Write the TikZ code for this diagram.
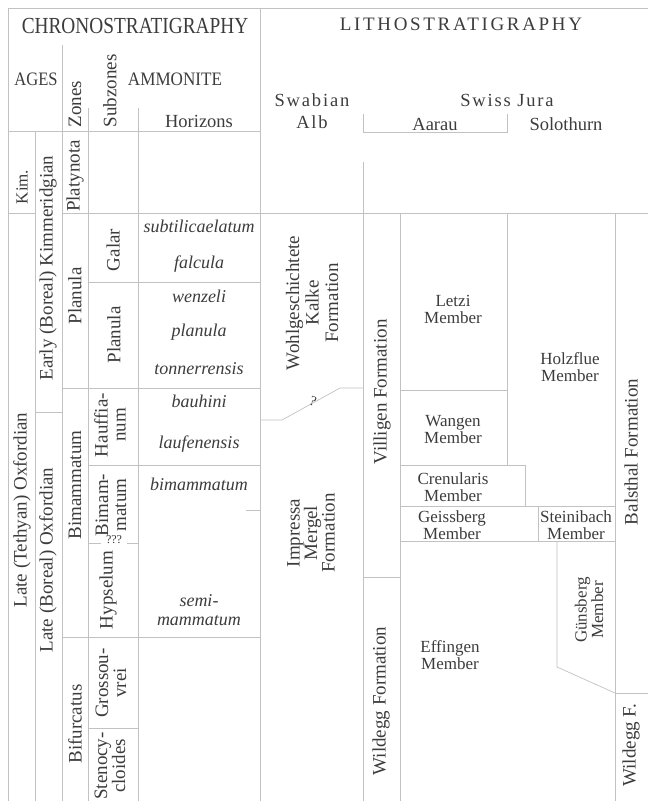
\documentclass[tikz,border=0pt]{standalone}
\usepackage{fontspec}
\usepackage{graphicx}
\setmainfont{Liberation Serif}
\newfontfamily\widefont[LetterSpace=14]{Liberation Serif}
\newfontfamily\semiwidefont[LetterSpace=10]{Liberation Serif}
\definecolor{lncol}{HTML}{C2C2C2}
\definecolor{txcol}{HTML}{3C3C3C}
\begin{document}
\begin{tikzpicture}[x=1pt,y=-1pt,
  ln/.style={draw=lncol, line width=0.7pt},
  every node/.style={text=txcol, inner sep=0pt},
  rot/.style={rotate=90, align=center, font=\fontsize{19}{18}\selectfont},
  rotm/.style={rotate=90, align=center, font=\fontsize{17}{15}\selectfont},
  mem/.style={align=center, font=\fontsize{17}{17}\selectfont},
  hor/.style={align=center, font=\fontsize{18}{18.5}\selectfont\itshape},
  hdr/.style={align=center, font=\fontsize{18.5}{22}\selectfont},
  whdr/.style={align=center, font=\semiwidefont\fontsize{18.5}{22}\selectfont},
]
\useasboundingbox (0,0) rectangle (648,801);
% frame
\draw[ln] (8,8) -- (648,8);
\draw[ln] (8,8) -- (8,801);
% chrono verticals
\draw[ln] (35,131) -- (35,801);
\draw[ln] (62,45) -- (62,801);
\draw[ln] (88,108) -- (88,801);
\draw[ln] (138,108) -- (138,801);
\draw[ln] (260,8) -- (260,801);
% chrono horizontals
\draw[ln] (8,131) -- (260,131);
\draw[ln] (8,213) -- (35,213);
\draw[ln] (62,213) -- (648,213);
\draw[ln] (88,282) -- (260,282);
\draw[ln] (62,388) -- (260,388);
\draw[ln] (35,412) -- (62,412);
\draw[ln] (88,465) -- (260,465);
\draw[ln] (246,510) -- (260,510);
\draw[ln] (88,543) -- (101,543);
\draw[ln] (127,543) -- (138,543);
\draw[ln] (62,637) -- (260,637);
\draw[ln] (88,728) -- (138,728);
% litho
\draw[ln] (363,114) -- (363,132) -- (507,132) -- (507,114);
\draw[ln] (363,162) -- (363,801);
\draw[ln] (400,213) -- (400,801);
\draw[ln] (507,213) -- (507,465);
\draw[ln] (615,213) -- (615,801);
\draw[ln] (260,420) -- (282,420) -- (340,388) -- (363,388);
\draw[ln] (400,390) -- (507,390);
\draw[ln] (400,465) -- (525,465) -- (525,506);
\draw[ln] (400,506) -- (615,506);
\draw[ln] (538,506) -- (538,541);
\draw[ln] (400,541) -- (615,541);
\draw[ln] (557,541) -- (557,667) -- (615,693);
\draw[ln] (615,693) -- (648,693);
\draw[ln] (363,577) -- (400,577);
% header texts
\node[font=\fontsize{23}{23}\selectfont] (chrono) at (135,26) {\scalebox{0.84}[1]{CHRONOSTRATIGRAPHY}};
\node[font=\widefont\fontsize{19}{19}\selectfont] (litho) at (461,24) {LITHOSTRATIGRAPHY};
\node[font=\fontsize{19}{19}\selectfont] (ages) at (36,79) {\scalebox{0.87}[1]{AGES}};
\node[font=\fontsize{19}{19}\selectfont] (ammonite) at (175,79) {\scalebox{0.9}[1]{AMMONITE}};
\node[rot] (zones) at (75,104) {Zones};
\node[rot] (subzones) at (110,91) {Subzones};
\node[hdr] (horizons) at (199,121) {Horizons};
\node[whdr] (swabian) at (312,111) {Swabian\\Alb};
\node[whdr] (swiss) at (507,100) {Swiss Jura};
\node[hdr] (aarau) at (435,124) {Aarau};
\node[hdr] (solothurn) at (566,124) {Solothurn};
% ages
\node[rotm] (kim) at (22,187) {Kim.};
\node[rot] (ekim) at (48,268) {Early (Boreal) Kimmeridgian};
\node[rot] (ltox) at (22,510) {Late (Tethyan) Oxfordian};
\node[rot] (lbox) at (48,560) {Late (Boreal) Oxfordian};
% zones
\node[rot] (zplat) at (75,176) {Platynota};
\node[rot] (zplan) at (75,296) {Planula};
\node[rot] (zbim) at (75,485) {Bimammatum};
\node[rot] (zbif) at (75,724) {Bifurcatus};
% subzones
\node[rot] (sgal) at (113,250) {Galar};
\node[rot] (splan) at (114,335) {Planula};
\node[rot] (shauf) at (110,425) {Hauffia-\\num};
\node[rot] (sbim) at (111,505) {Bimam-\\matum};
\node[font=\fontsize{12}{12}\selectfont] (qqq) at (114,540) {???};
\node[rot] (shyp) at (108,590) {Hypselum};
\node[rot] (sgros) at (111,683) {Grossou-\\vrei};
\node[rot] (sten) at (110,766) {Stenocy-\\cloides};
% horizons
\node[hor] (h1) at (199,226) {subtilicaelatum};
\node[hor] (h2) at (199,264) {falcula};
\node[hor] (h3) at (199,296) {wenzeli};
\node[hor] (h4) at (199,332) {planula};
\node[hor] (h5) at (199,369) {tonnerrensis};
\node[hor] (h6) at (199,401) {bauhini};
\node[hor] (h7) at (199,444) {laufenensis};
\node[hor] (h8) at (199,484) {bimammatum};
\node[hor] (h9) at (199,610) {semi-\\mammatum};
% swabian alb
\node[rot, font=\fontsize{19}{19.5}\selectfont] (wohl) at (312,303) {Wohlgeschichtete\\Kalke\\Formation};
\node[font=\fontsize{14}{14}\selectfont, rotate=-20] (q) at (313,401) {?};
\node[rot, font=\fontsize{19}{17.5}\selectfont] (impr) at (311,533) {Impressa\\Mergel\\Formation};
% aarau
\node[rot] (vill) at (382,392) {Villigen Formation};
\node[rot] (wild) at (381,701) {Wildegg Formation};
\node[mem] (letzi) at (453,309) {Letzi\\Member};
\node[mem] (wangen) at (453,430) {Wangen\\Member};
\node[mem] (cren) at (453,487) {Crenularis\\Member};
\node[mem] (geiss) at (452,525) {Geissberg\\Member};
\node[mem] (effing) at (450,655) {Effingen\\Member};
% solothurn
\node[mem] (holz) at (570,367) {Holzflue\\Member};
\node[mem] (stein) at (576,525) {Steinibach\\Member};
\node[rotm] (guens) at (589,610) {Günsberg\\Member};
\node[rot] (bals) at (631,452) {Balsthal Formation};
\node[rot] (wildf) at (631,745) {Wildegg F.};
\end{tikzpicture}
\end{document}
